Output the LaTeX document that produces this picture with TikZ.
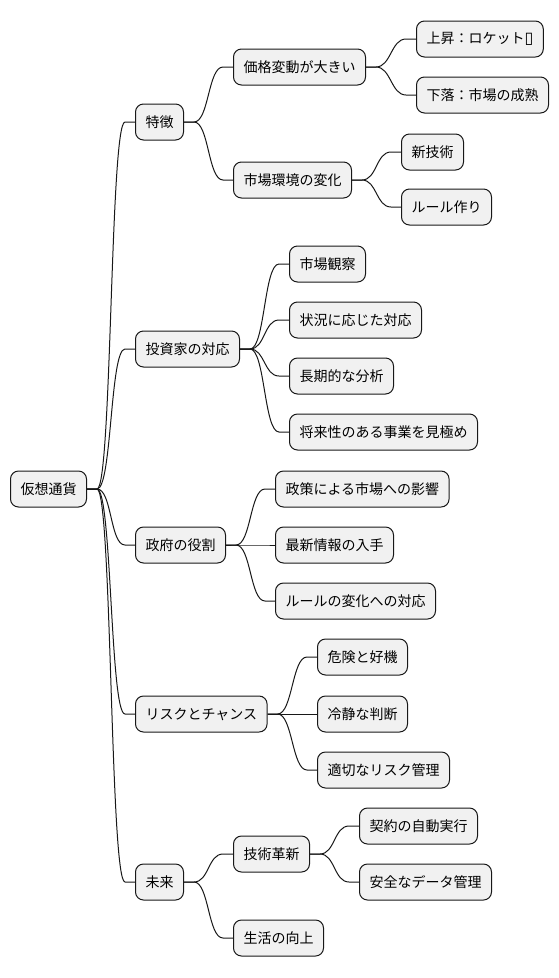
\documentclass[tikz,border=0pt]{standalone}
\usepackage{fontspec}
\setmainfont{Noto Sans CJK JP}
\newfontfamily\symfont{DejaVu Sans}
\usetikzlibrary{calc}
\definecolor{boxfill}{HTML}{F1F1F1}
\definecolor{boxline}{HTML}{181818}
\tikzset{
  box/.style={draw=boxline, fill=boxfill, line width=1pt, rounded corners=8pt,
    minimum height=36pt, inner xsep=10pt, inner ysep=0pt, anchor=west,
    font=\fontsize{14pt}{16pt}\selectfont},
  edge/.style={draw=boxline, line width=1pt}
}
\newcommand\mmedge[2]{\draw[edge] (#1.east) -- ++(10,0) .. controls +(15,0) and +(-15,0) .. ($(#2.west)+(-10,0)$) -- (#2.west);}
\begin{document}
\begin{tikzpicture}[x=1pt,y=-1pt]
\useasboundingbox (0,0) rectangle (558,978);
\node[box] (root) at (10,489) {仮想通貨};
% level 1
\node[box] (f) at (135,122) {特徴};
\node[box] (inv) at (135,349) {投資家の対応};
\node[box] (gov) at (135,545) {政府の役割};
\node[box] (risk) at (135,714) {リスクとチャンス};
\node[box] (fut) at (135,882) {未来};
% 特徴
\node[box] (price) at (233,67) {価格変動が大きい};
\node[box] (up) at (416,39) {上昇：ロケット{\symfont\fontsize{16pt}{16pt}\selectfont ▯}};
\node[box] (down) at (416,95) {下落：市場の成熟};
\node[box] (env) at (233,180) {市場環境の変化};
\node[box] (tech) at (401,152) {新技術};
\node[box] (rule) at (401,207) {ルール作り};
% 投資家
\node[box] (i1) at (289,264) {市場観察};
\node[box] (i2) at (289,320) {状況に応じた対応};
\node[box] (i3) at (289,376) {長期的な分析};
\node[box] (i4) at (289,432) {将来性のある事業を見極め};
% 政府
\node[box] (g1) at (275,489) {政策による市場への影響};
\node[box] (g2) at (275,545) {最新情報の入手};
\node[box] (g3) at (275,601) {ルールの変化への対応};
% リスク
\node[box] (r1) at (317,657) {危険と好機};
\node[box] (r2) at (317,714) {冷静な判断};
\node[box] (r3) at (317,770) {適切なリスク管理};
% 未来
\node[box] (inn) at (233,854) {技術革新};
\node[box] (c1) at (359,826) {契約の自動実行};
\node[box] (c2) at (359,882) {安全なデータ管理};
\node[box] (life) at (233,938) {生活の向上};
% edges
\mmedge{root}{f}\mmedge{root}{inv}\mmedge{root}{gov}\mmedge{root}{risk}\mmedge{root}{fut}
\mmedge{f}{price}\mmedge{f}{env}
\mmedge{price}{up}\mmedge{price}{down}
\mmedge{env}{tech}\mmedge{env}{rule}
\mmedge{inv}{i1}\mmedge{inv}{i2}\mmedge{inv}{i3}\mmedge{inv}{i4}
\mmedge{gov}{g1}\mmedge{gov}{g2}\mmedge{gov}{g3}
\mmedge{risk}{r1}\mmedge{risk}{r2}\mmedge{risk}{r3}
\mmedge{fut}{inn}\mmedge{fut}{life}
\mmedge{inn}{c1}\mmedge{inn}{c2}
\end{tikzpicture}
\end{document}
